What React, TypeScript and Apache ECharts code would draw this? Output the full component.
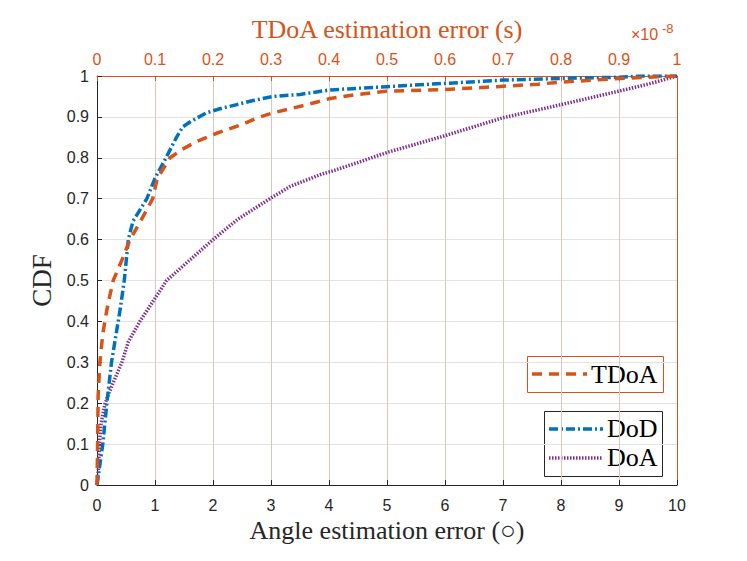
import React, { useEffect, useRef } from "react";
import * as echarts from "echarts";

const BLUE = "#0072BD";
const ORANGE = "#D95319";
const PURPLE = "#7E2F8E";
const DARK = "#262626";

// Angle error (deg) and CDF for DoD
const dodX = [0, 0.05, 0.1, 0.17, 0.25, 0.4, 0.47, 0.54, 0.62, 0.86, 1.0, 1.19, 1.37, 1.48, 1.63, 1.89, 2.12, 2.41, 2.69, 3.04, 3.5, 4.02, 5, 6, 7, 8, 9, 9.4, 10];
const dodY = [0, 0.05, 0.1, 0.2, 0.3, 0.43, 0.5, 0.6, 0.645, 0.7, 0.75, 0.8, 0.85, 0.876, 0.89, 0.91, 0.92, 0.93, 0.94, 0.95, 0.955, 0.966, 0.974, 0.982, 0.99, 0.994, 0.997, 1, 1];

// Angle error (deg) and CDF for DoA
const doaX = [0, 0.03, 0.04, 0.07, 0.14, 0.22, 0.34, 0.43, 0.54, 0.74, 0.97, 1.2, 1.6, 2.0, 2.43, 2.98, 3.33, 3.87, 4.02, 4.53, 5, 6, 7, 8, 9, 9.5, 10];
const doaY = [0, 0.05, 0.1, 0.15, 0.2, 0.23, 0.27, 0.3, 0.35, 0.4, 0.45, 0.5, 0.55, 0.6, 0.65, 0.7, 0.73, 0.76, 0.766, 0.79, 0.813, 0.854, 0.898, 0.93, 0.963, 0.98, 1];

// TDoA error (x 1e-8 s) and CDF
const tdoaX = [0, 0.001, 0.002, 0.005, 0.01, 0.016, 0.02, 0.028, 0.043, 0.057, 0.077, 0.096, 0.104, 0.126, 0.146, 0.172, 0.206, 0.247, 0.281, 0.304, 0.362, 0.402, 0.45, 0.5, 0.6, 0.69, 0.76, 0.8, 0.89, 0.95, 1];
const tdoaY = [0, 0.1, 0.22, 0.3, 0.37, 0.42, 0.45, 0.5, 0.55, 0.6, 0.65, 0.7, 0.75, 0.8, 0.82, 0.84, 0.86, 0.88, 0.9, 0.91, 0.93, 0.945, 0.955, 0.963, 0.967, 0.974, 0.98, 0.985, 0.993, 0.997, 1];

const seriesNames = ["TDoA", "DoD", "DoA"];
const xTitle = "Angle estimation error (○)";
const topTitle = "TDoA estimation error (s)";
const yTitle = "CDF";
const topExponentBase = "×10";
const topExponent = "-8";

const pair = (xs: number[], ys: number[]) => xs.map((x, i) => [x, ys[i]]);

export default function App() {
  const ref = useRef<HTMLDivElement>(null);
  useEffect(() => {
    if (!ref.current) return;
    const chart = echarts.init(ref.current, null, { renderer: "svg" });
    const tickFont = { fontFamily: "Liberation Sans", fontSize: 16 };
    const serif = "Liberation Serif";
    const LW = 3.5;
    chart.setOption({
      animation: false,
      backgroundColor: "#ffffff",
      grid: { left: 97, right: 70, top: 76, bottom: 76, containLabel: false },
      xAxis: [
        {
          type: "value",
          position: "bottom",
          min: 0,
          max: 10,
          interval: 1,
          name: xTitle,
          nameLocation: "middle",
          nameGap: 27,
          nameTextStyle: { fontFamily: serif, fontSize: 26, color: DARK },
          axisLine: { show: true, onZero: false, lineStyle: { color: DARK, width: 1 } },
          axisTick: { show: true, inside: true, length: 5, lineStyle: { color: DARK } },
          axisLabel: { ...tickFont, color: DARK, margin: 12 },
          splitLine: { show: false },
        },
        {
          type: "value",
          position: "top",
          min: 0,
          max: 1,
          interval: 0.1,
          name: topTitle,
          nameLocation: "middle",
          nameGap: 34,
          nameTextStyle: { fontFamily: serif, fontSize: 26, color: ORANGE },
          axisLine: { show: true, onZero: false, lineStyle: { color: ORANGE, width: 1 } },
          axisTick: { show: true, inside: true, length: 5, lineStyle: { color: ORANGE } },
          axisLabel: { ...tickFont, color: ORANGE, margin: 9 },
          splitLine: { show: true, lineStyle: { color: "#d9c6bf", width: 1 } },
        },
      ],
      yAxis: [
        {
          type: "value",
          position: "left",
          min: 0,
          max: 1,
          interval: 0.1,
          name: yTitle,
          nameLocation: "middle",
          nameGap: 42,
          nameRotate: 90,
          nameTextStyle: { fontFamily: serif, fontSize: 27, color: DARK },
          axisLine: { show: true, onZero: false, lineStyle: { color: DARK, width: 1 } },
          axisTick: { show: true, inside: true, length: 5, lineStyle: { color: DARK } },
          axisLabel: { ...tickFont, color: DARK, margin: 8 },
          splitLine: { show: true, lineStyle: { color: "#e3e3e3", width: 1 } },
        },
        {
          type: "value",
          position: "right",
          min: 0,
          max: 1,
          interval: 0.1,
          axisLine: { show: true, onZero: false, lineStyle: { color: ORANGE, width: 1 } },
          axisTick: { show: false },
          axisLabel: { show: false },
          splitLine: { show: false },
        },
      ],
      series: [
        {
          name: seriesNames[2],
          type: "line",
          xAxisIndex: 0,
          yAxisIndex: 0,
          data: pair(doaX, doaY),
          showSymbol: false,
          symbol: "none",
          lineStyle: { color: PURPLE, width: LW, type: [1.5, 1.5] },
          z: 3,
        },
        {
          name: seriesNames[1],
          type: "line",
          xAxisIndex: 0,
          yAxisIndex: 0,
          data: pair(dodX, dodY),
          showSymbol: false,
          symbol: "none",
          lineStyle: { color: BLUE, width: LW, type: [9, 3, 2, 3] },
          z: 4,
        },
        {
          name: seriesNames[0],
          type: "line",
          xAxisIndex: 1,
          yAxisIndex: 0,
          data: pair(tdoaX, tdoaY),
          showSymbol: false,
          symbol: "none",
          lineStyle: { color: ORANGE, width: LW, type: [10, 7] },
          z: 5,
        },
      ],
      graphic: [
        {
          type: "text",
          z: 10,
          style: { x: 631, y: 34, text: topExponentBase, fontFamily: "Liberation Sans", fontSize: 16, fill: ORANGE, verticalAlign: "middle" },
        },
        {
          type: "text",
          z: 10,
          style: { x: 662, y: 28, text: topExponent, fontFamily: "Liberation Sans", fontSize: 13, fill: ORANGE, verticalAlign: "middle" },
        },
        {
          type: "group",
          z: 20,
          children: [
            { type: "rect", shape: { x: 527.5, y: 356.5, width: 136, height: 36 }, style: { fill: "#fff", stroke: ORANGE, lineWidth: 1 } },
            { type: "line", shape: { x1: 532, y1: 374, x2: 587, y2: 374 }, style: { stroke: ORANGE, lineWidth: LW, lineDash: [10, 7] } },
            { type: "text", style: { x: 591, y: 374, text: seriesNames[0], fontFamily: serif, fontSize: 26, fill: "#000", verticalAlign: "middle" } },
            { type: "rect", shape: { x: 544.5, y: 411.5, width: 118, height: 65 }, style: { fill: "#fff", stroke: DARK, lineWidth: 1 } },
            { type: "line", shape: { x1: 549, y1: 429, x2: 603, y2: 429 }, style: { stroke: BLUE, lineWidth: LW, lineDash: [9, 3, 2, 3] } },
            { type: "text", style: { x: 607, y: 428, text: seriesNames[1], fontFamily: serif, fontSize: 26, fill: "#000", verticalAlign: "middle" } },
            { type: "line", shape: { x1: 549, y1: 458, x2: 603, y2: 458 }, style: { stroke: PURPLE, lineWidth: LW, lineDash: [1.5, 1.5] } },
            { type: "text", style: { x: 607, y: 457, text: seriesNames[2], fontFamily: serif, fontSize: 26, fill: "#000", verticalAlign: "middle" } },
          ],
        },
      ],
    });
    return () => chart.dispose();
  }, []);
  return <div ref={ref} style={{ position: "fixed", left: 0, top: 0, width: 747, height: 561 }} />;
}
